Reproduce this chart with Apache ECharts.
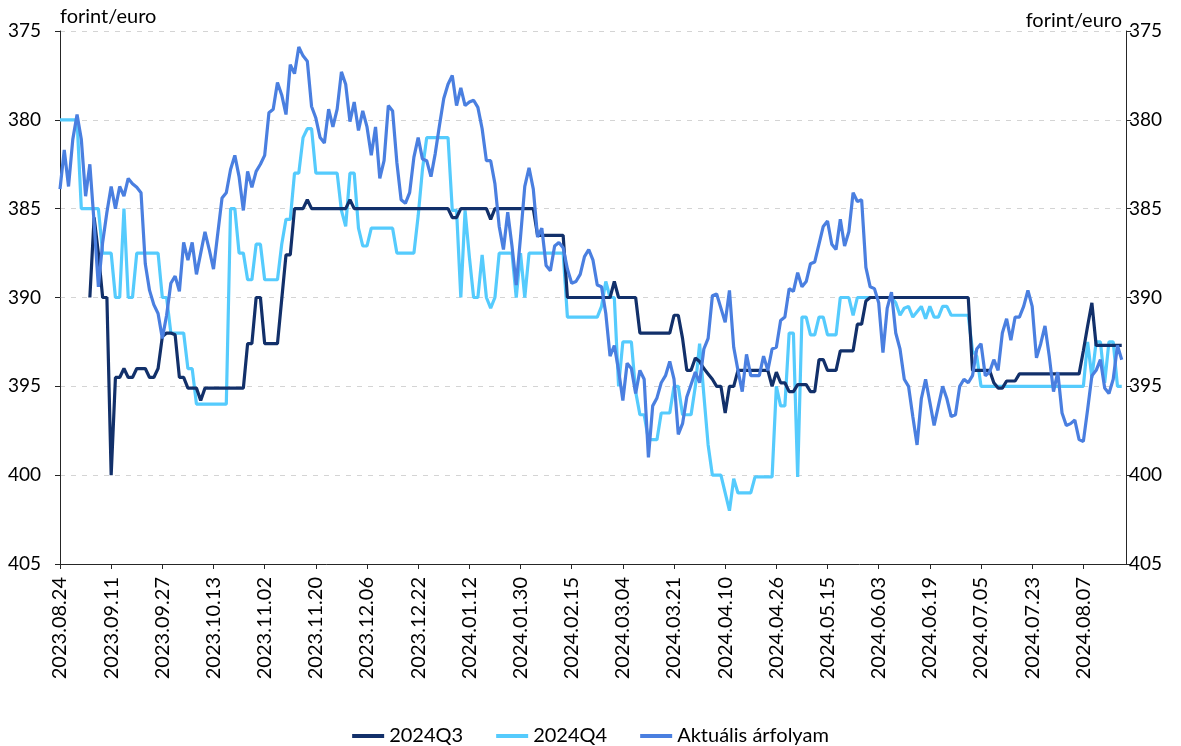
<!DOCTYPE html>
<html>
<head>
<meta charset="utf-8">
<script src="https://cdn.jsdelivr.net/npm/echarts@6/dist/echarts.min.js"></script>
<style>
  html, body { margin: 0; padding: 0; background: #fff; }
  #chart { width: 1181px; height: 746px; }
</style>
</head>
<body>
<div id="chart"></div>
<script>
// business days (Hungarian calendar) from the first date on the axis
const startDate = '2023-08-24'
const dayCount = 251
const holidays = ['2023-10-23', '2023-11-01', '2023-12-25', '2023-12-26', '2024-01-01',
  '2024-03-15', '2024-03-29', '2024-04-01', '2024-05-01', '2024-05-20', '2024-08-19', '2024-08-20']
const extraWorkdays = ['2024-08-03']

const yTicks = { min: 375, max: 405, interval: 5 }
const axisName = 'forint/euro'
const seriesNames = ['2024Q3', '2024Q4', 'Aktuális árfolyam']

const q3 = [
  null, null, null, null, null, null, null, 390, 385.5, 387.5,
  390, 390, 400, 394.5, 394.5, 394, 394.5, 394.5, 394, 394,
  394, 394.5, 394.5, 394, 392.2, 392, 392, 392.1, 394.5, 394.5,
  395.1, 395.1, 395.1, 395.8, 395.1, 395.1, 395.1, 395.1, 395.1, 395.1,
  395.1, 395.1, 395.1, 395.1, 392.6, 392.6, 390, 390, 392.6, 392.6,
  392.6, 392.6, 390.1, 387.6, 387.6, 385, 385, 385, 384.5, 385,
  385, 385, 385, 385, 385, 385, 385, 385, 384.5, 385,
  385, 385, 385, 385, 385, 385, 385, 385, 385, 385,
  385, 385, 385, 385, 385, 385, 385, 385, 385, 385,
  385, 385, 385.5, 385.5, 385, 385, 385, 385, 385, 385,
  385, 385.6, 385, 385, 385, 385, 385, 385, 385, 385,
  385, 385, 386.5, 386.5, 386.5, 386.5, 386.5, 386.5, 386.5, 390,
  390, 390, 390, 390, 390, 390, 390, 390, 390, 390,
  389.1, 390, 390, 390, 390, 390, 392, 392, 392, 392,
  392, 392, 392, 392, 391, 391, 392.3, 394.1, 394.1, 393.4,
  393.6, 394, 394.3, 394.6, 395, 395, 396.5, 395, 395, 394.1,
  394.1, 394.1, 394.1, 394.1, 394.1, 394.1, 394.1, 395, 394.2, 394.8,
  394.8, 395.3, 395.3, 394.9, 394.9, 394.9, 395.3, 395.3, 393.5, 393.5,
  394.1, 394.1, 394.1, 393, 393, 393, 393, 391.5, 391.5, 390.2,
  390, 390, 390, 390, 390, 390, 390, 390, 390, 390,
  390, 390, 390, 390, 390, 390, 390, 390, 390, 390,
  390, 390, 390, 390, 394.1, 394.1, 394.1, 394.1, 394.1, 394.8,
  395.1, 395.1, 394.7, 394.7, 394.7, 394.3, 394.3, 394.3, 394.3, 394.3,
  394.3, 394.3, 394.3, 394.3, 394.3, 394.3, 394.3, 394.3, 394.3, 394.3,
  393, 391.6, 390.3, 392.7, 392.7, 392.7, 392.7, 392.7, 392.7, 392.7
]

const q4 = [
  380, 380, 380, 380, 380, 385, 385, 385, 385, 385,
  387.5, 387.5, 387.5, 390, 390, 385, 390, 390, 387.5, 387.5,
  387.5, 387.5, 387.5, 387.5, 390, 390, 392, 392, 392, 392,
  394, 394, 396, 396, 396, 396, 396, 396, 396, 396,
  385, 385, 387.5, 387.5, 389, 389, 387, 387, 389, 389,
  389, 389, 387, 385.6, 385.6, 383, 383, 381, 380.5, 380.5,
  383, 383, 383, 383, 383, 383, 385.1, 386, 383, 383,
  386.1, 387.1, 387.1, 386.1, 386.1, 386.1, 386.1, 386.1, 386.1, 387.5,
  387.5, 387.5, 387.5, 387.5, 385.4, 382.8, 381, 381, 381, 381,
  381, 381, 385.1, 385.1, 390, 385.1, 387.7, 390, 390, 387.6,
  390, 390.6, 390, 387.5, 387.5, 387.5, 387.5, 390, 387.5, 390,
  387.5, 387.5, 387.5, 387.5, 387.5, 387.5, 387.5, 387.5, 387.5, 391.1,
  391.1, 391.1, 391.1, 391.1, 391.1, 391.1, 391.1, 390.5, 389.1, 390,
  390, 395, 392.5, 392.5, 392.5, 395.3, 396.6, 396.6, 398, 398,
  398, 396.5, 396.5, 396.5, 395, 395, 396.6, 396.6, 396.6, 395,
  392.6, 395.5, 398.3, 400, 400, 400, 401, 402, 400.2, 401,
  401, 401, 401, 400.1, 400.1, 400.1, 400.1, 400.1, 395, 396.1,
  396.1, 392, 392, 400.1, 391.1, 391.1, 392.1, 392.1, 391.1, 391.1,
  392.1, 392.1, 392.1, 390, 390, 390, 391, 390, 390, 390,
  390, 390, 390, 390, 390, 390, 390.3, 391, 390.6, 390.5,
  391.1, 390.8, 390.5, 391.2, 390.5, 391.1, 391.1, 390.5, 390.5, 391,
  391, 391, 391, 391, 393, 393.3, 395, 395, 395, 395,
  395, 395, 395, 395, 395, 395, 395, 395, 395, 395,
  395, 395, 395, 395, 395, 395, 395, 395, 395, 395,
  395, 392.5, 394.5, 392.5, 392.5, 394.8, 392.5, 392.5, 395, 395
]

const actual = [
  383.9, 381.7, 383.75, 381.1, 379.7, 381.1, 384.3, 382.5, 385.8, 389.4,
  386.9, 385.2, 383.75, 385, 383.75, 384.3, 383.3, 383.6, 383.8, 384.1,
  388.1, 389.6, 390.4, 390.9, 392.3, 391, 389.2, 388.8, 389.65, 386.9,
  387.9, 386.9, 388.7, 387.5, 386.3, 387.3, 388.4, 386.4, 384.4, 384.1,
  382.8, 382, 383.2, 385.1, 382.9, 383.8, 382.9, 382.5, 382, 379.6,
  379.4, 377.9, 378.6, 379.7, 376.9, 377.4, 375.9, 376.4, 376.7, 379.25,
  379.9, 381, 381.3, 379.4, 380.4, 379.4, 377.3, 378, 380.1, 379,
  380.6, 379.5, 380.4, 382, 380.4, 383.3, 382.3, 379.2, 379.5, 382.4,
  384.5, 384.7, 384.1, 382.1, 381, 382.2, 382.3, 383.2, 381.9, 380.3,
  378.8, 378, 377.5, 379.2, 378.2, 379.2, 379, 378.9, 379.3, 380.5,
  382.3, 382.3, 383.6, 386, 387.3, 385.2, 387.1, 389.3, 386.6, 383.75,
  382.7, 383.9, 386.6, 386.1, 388.2, 388.5, 387.1, 386.9, 387.2, 388.4,
  389.2, 389.1, 388.7, 387.7, 387.3, 387.9, 389.3, 389.4, 390.9, 393.3,
  392.7, 394.1, 395.8, 393.7, 394, 395.4, 394.1, 394.6, 399, 396.1,
  395.65, 394.8, 394.4, 393.6, 394.6, 397.7, 397.1, 395.6, 394.9, 394.2,
  394.8, 392.9, 392.3, 389.9, 389.8, 390.6, 391.4, 389.6, 392.8, 394.1,
  395.3, 393.2, 394.4, 394.4, 394.4, 393.3, 394.1, 392.9, 392.8, 391.3,
  391.1, 389.5, 389.65, 388.6, 389.4, 389.1, 388.1, 388, 387, 386,
  385.7, 387, 387.3, 385.6, 387.1, 386.3, 384.1, 384.6, 384.5, 388.3,
  389.4, 389.5, 390.3, 393.1, 390.6, 389.7, 392, 392.9, 394.6, 395,
  396.7, 398.3, 395.7, 394.6, 395.9, 397.2, 396.1, 395, 395.7, 396.7,
  396.6, 395, 394.6, 394.8, 394.4, 392.9, 392.6, 394.4, 394.2, 393.5,
  394.1, 392, 391.2, 392.4, 391.1, 391.1, 390.5, 389.6, 390.5, 393.4,
  392.6, 391.6, 393.3, 395.3, 394.2, 396.5, 397.2, 397.1, 396.9, 398,
  398.1, 396.3, 394.4, 394.1, 393.5, 395.1, 395.4, 394.6, 392.7, 393.5
]

const colors = ['#12306a', '#55cbfd', '#4a7fe0']
const font = 'Lato, "Open Sans", sans-serif'

function businessDays (start, n) {
  const out = []
  const d = new Date(start + 'T00:00:00Z')
  while (out.length < n) {
    const iso = d.toISOString().slice(0, 10)
    const wd = d.getUTCDay()
    const workday = (wd !== 0 && wd !== 6 && !holidays.includes(iso)) || extraWorkdays.includes(iso)
    if (workday) out.push(iso.replace(/-/g, '.'))
    d.setUTCDate(d.getUTCDate() + 1)
  }
  return out
}

const dates = businessDays(startDate, dayCount)

function yAxis (position) {
  const left = position === 'left'
  return {
    type: 'value',
    position,
    inverse: true,
    min: yTicks.min,
    max: yTicks.max,
    interval: yTicks.interval,
    name: axisName,
    nameLocation: 'start',
    nameGap: left ? 14 : 10,
    nameTextStyle: {
      fontFamily: font,
      fontSize: 20,
      color: '#000',
      align: left ? 'left' : 'right',
      verticalAlign: 'middle',
      padding: left ? 0 : [0, 4, 0, 0]
    },
    axisLine: { show: true, lineStyle: { color: '#262626', width: 1 } },
    axisTick: { show: true, length: 5, lineStyle: { color: '#262626' } },
    axisLabel: { fontFamily: font, fontSize: 19, color: '#000', margin: left ? 19 : 3 },
    splitLine: left ? { show: true, lineStyle: { color: '#d4d4d4', type: [5, 6], width: 1 } } : { show: false }
  }
}

const chart = echarts.init(document.getElementById('chart'), null, { renderer: 'canvas' })
chart.setOption({
  animation: false,
  color: colors,
  grid: { left: 60, right: 55, top: 31, bottom: 182, containLabel: false },
  legend: {
    data: seriesNames,
    top: 721,
    left: 'center',
    icon: 'rect',
    itemWidth: 32,
    itemHeight: 4,
    itemGap: 33,
    textStyle: { fontFamily: font, fontSize: 20, color: '#000' }
  },
  xAxis: {
    type: 'category',
    data: dates,
    boundaryGap: false,
    axisLine: { lineStyle: { color: '#262626', width: 1 } },
    axisTick: { show: true, interval: 11, length: 5, lineStyle: { color: '#262626' } },
    axisLabel: { interval: 11, rotate: 90, fontFamily: font, fontSize: 20, color: '#000', margin: 13 },
    splitLine: { show: false }
  },
  yAxis: [yAxis('left'), yAxis('right')],
  series: [q3, q4, actual].map((data, k) => ({
    name: seriesNames[k],
    type: 'line',
    data,
    showSymbol: false,
    symbol: 'none',
    connectNulls: false,
    lineStyle: { width: 3.2, color: colors[k] },
    z: k === 2 ? 3 : 2 - k
  }))
})
</script>
</body>
</html>
